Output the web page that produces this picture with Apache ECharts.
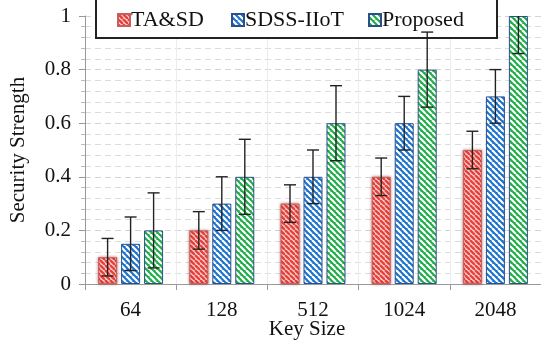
<!DOCTYPE html>
<html>
<head>
<meta charset="utf-8">
<script src="https://cdn.jsdelivr.net/npm/echarts@6/dist/echarts.min.js"></script>
<style>html,body{margin:0;padding:0;background:#fff;}#c{width:541px;height:342px;}</style>
</head>
<body>
<div id="c"></div>
<script>
var categories = ['64', '128', '512', '1024', '2048'];
var seriesNames = ['TA&SD', 'SDSS-IIoT', 'Proposed'];
var tasdValues = [0.10, 0.20, 0.30, 0.40, 0.50];
var sdssValues = [0.15, 0.30, 0.40, 0.60, 0.70];
var proposedValues = [0.20, 0.40, 0.60, 0.80, 1.00];
var tasdErr = [0.07, 0.07, 0.07, 0.07, 0.07];
var sdssErr = [0.10, 0.10, 0.10, 0.10, 0.10];
var proposedErr = [0.14, 0.14, 0.14, 0.14, 0.14];
var yTicks = [0, 0.2, 0.4, 0.6, 0.8, 1];

var FONT = '"Liberation Serif", "Times New Roman", serif';

function stripe(bg, fg, size, w) {
  var cv = document.createElement('canvas');
  cv.width = size; cv.height = size;
  var ctx = cv.getContext('2d');
  ctx.fillStyle = bg; ctx.fillRect(0, 0, size, size);
  ctx.strokeStyle = fg; ctx.lineWidth = w;
  for (var k = -size; k <= size; k += size) {
    ctx.beginPath(); ctx.moveTo(k, 0); ctx.lineTo(k + size, size); ctx.stroke();
  }
  return { image: cv, repeat: 'repeat' };
}

var redPat = stripe('#fbd0d0', '#e6423a', 5, 2.3);
var bluePat = stripe('#1c72cc', '#ffffff', 6, 2.2);
var greenPat = stripe('#20ac48', '#ffffff', 6, 2.2);

var values = [tasdValues, sdssValues, proposedValues];
var errs = [tasdErr, sdssErr, proposedErr];
var offsets = [-23, 0, 23];
var YMAX = 1;

function errSeries(idx) {
  var data = values[idx].map(function (v, i) { return [i, v, errs[idx][i]]; });
  return {
    type: 'custom',
    z: 6,
    silent: true,
    data: data,
    renderItem: function (params, api) {
      var x = api.value(0), v = api.value(1), e = api.value(2);
      var hi = Math.min(v + e, YMAX), lo = v - e;
      var cx = api.coord([x, v])[0] + offsets[idx];
      var yHi = api.coord([x, hi])[1], yLo = api.coord([x, lo])[1];
      var st = { stroke: '#222', lineWidth: 1.4 };
      var ch = [
        { type: 'line', shape: { x1: cx, y1: yHi, x2: cx, y2: yLo }, style: st },
        { type: 'line', shape: { x1: cx - 6, y1: yLo, x2: cx + 6, y2: yLo }, style: st }
      ];
      if (v + e <= YMAX) ch.push({ type: 'line', shape: { x1: cx - 6, y1: yHi, x2: cx + 6, y2: yHi }, style: st });
      return { type: 'group', children: ch };
    }
  };
}

var chart = echarts.init(document.getElementById('c'), null, { renderer: 'canvas' });
var legendBase = {
  top: 9, itemWidth: 12, itemHeight: 12, itemGap: 0, icon: 'rect', padding: 0,
  textStyle: { fontFamily: FONT, fontSize: 22, color: '#111', padding: [0, 0, 0, -4] },
  selectedMode: false
};
chart.setOption({
  animation: false,
  backgroundColor: '#fff',
  grid: { left: 77, top: 16, width: 467, height: 268, containLabel: false },
  title: {
    text: 'Key Size', left: 302, top: 314, textAlign: 'center',
    textStyle: { fontFamily: FONT, fontSize: 21, fontWeight: 'normal', color: '#111' }
  },
  graphic: [{
    type: 'rect', z: 3, shape: { x: 96, y: -10, width: 401, height: 48 },
    style: { fill: '#fff', stroke: '#222', lineWidth: 2 }
  }],
  legend: [
    Object.assign({}, legendBase, { left: 117, data: [seriesNames[0]] }),
    Object.assign({}, legendBase, { left: 231, data: [seriesNames[1]] }),
    Object.assign({}, legendBase, { left: 368, data: [seriesNames[2]] })
  ],
  xAxis: {
    type: 'category',
    data: categories,
    axisLine: { lineStyle: { color: '#999', width: 1 } },
    axisTick: { show: true, length: 6, lineStyle: { color: '#999' } },
    axisLabel: { fontFamily: FONT, fontSize: 21, color: '#111', margin: 16 },
    splitLine: { show: true, lineStyle: { color: '#ececec', width: 1 } }
  },
  yAxis: {
    type: 'value', min: 0, max: 1, interval: 0.2,
    name: 'Security Strength', nameLocation: 'middle', nameRotate: 90, nameGap: 56,
    nameTextStyle: { fontFamily: FONT, fontSize: 21, color: '#111' },
    axisLine: { show: true, lineStyle: { color: '#999', width: 1 } },
    axisTick: { show: true, length: 6, lineStyle: { color: '#999' } },
    minorTick: { show: true, splitNumber: 5, length: 4, lineStyle: { color: '#bbb' } },
    axisLabel: {
      fontFamily: FONT, fontSize: 21, color: '#111', margin: 14,
      formatter: function (v) { var s = yTicks.indexOf(v) >= 0 ? String(v) : ''; return s; }
    },
    splitLine: { show: true, lineStyle: { color: '#d4d4d4', type: [6, 4], width: 1 } },
    minorSplitLine: { show: true, lineStyle: { color: '#dcdcdc', type: [6, 4], width: 1 } }
  },
  series: [
    { name: seriesNames[0], type: 'bar', data: tasdValues, barWidth: 19, barGap: '21%', z: 2,
      itemStyle: { color: redPat, borderColor: '#c66060', borderWidth: 1, shadowBlur: 3, shadowColor: 'rgba(140,30,30,0.55)' } },
    { name: seriesNames[1], type: 'bar', data: sdssValues, barWidth: 19, barGap: '21%', z: 2,
      itemStyle: { color: bluePat, borderColor: '#2b4f8a', borderWidth: 1 } },
    { name: seriesNames[2], type: 'bar', data: proposedValues, barWidth: 19, barGap: '21%', z: 2,
      itemStyle: { color: greenPat, borderColor: '#2b4f8a', borderWidth: 1 } },
    errSeries(0), errSeries(1), errSeries(2)
  ]
});
</script>
</body>
</html>
